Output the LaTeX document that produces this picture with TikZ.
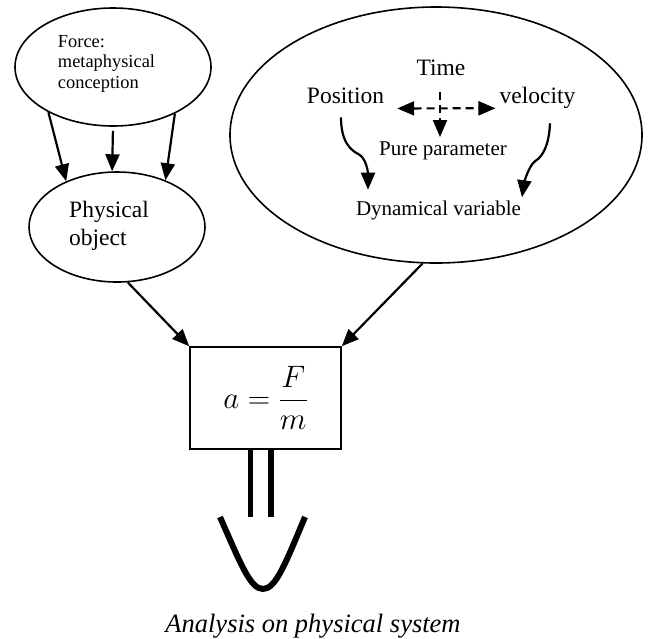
\RequirePackage{fix-cm}
\documentclass[tikz,border=0pt]{standalone}
\usepackage{amsmath}
\usepackage{fontspec}
\setmainfont{Liberation Serif}
\usetikzlibrary{shapes.geometric,arrows.meta}

\begin{document}
\begin{tikzpicture}[
    x=1pt, y=-1pt,
    oval/.style={draw, ellipse, line width=1.6pt, inner sep=0pt},
    formula/.style={draw, rectangle, line width=1.6pt, minimum width=151pt, minimum height=102pt},
    arrow/.style={-{Triangle[length=17pt,width=14pt]}, line width=2.2pt},
    dasharrow/.style={arrow, dash pattern=on 8pt off 5pt},
    word/.style={inner sep=0pt, anchor=base},
    bigword/.style={word, font=\fontsize{23.5}{28}\selectfont},
    smallword/.style={word, font=\fontsize{21}{25}\selectfont}
]
\useasboundingbox (0,0) rectangle (660,638);

% Force and the object it acts on
\node[oval, minimum width=196pt, minimum height=118pt,
      label={[align=left, xshift=-6.5pt, yshift=3.5pt, font=\fontsize{18.4}{20.5}\selectfont]center:Force:\\metaphysical\\conception}] (force) at (113,67) {};
\node[oval, minimum width=176pt, minimum height=110pt,
      label={[align=left, xshift=-8pt, yshift=1.5pt, font=\fontsize{23.5}{28}\selectfont]center:Physical\\object}] (object) at (117,227) {};

\draw[arrow] (force.215) -- (object.138);
\draw[arrow, shorten <=4pt] (force.270) -- (object.95);
\draw[arrow] (force.323) -- (object.44);

% Kinematics
\node[oval, minimum width=412pt, minimum height=256pt] (motion) at (436,135) {};
\node[bigword] (time) at (441,75) {Time};
\node[bigword] (position) at (345.5,103) {Position};
\node[bigword] (velocity) at (537.5,103) {velocity};
\node[smallword] (pure) at (443,155) {Pure parameter};
\node[smallword] (dynamic) at (438.5,215) {Dynamical variable};

\draw[dasharrow, {Triangle[length=17pt,width=14pt]}-{Triangle[length=17pt,width=14pt]}] ([shift={(13,5)}]position.south east) -- ([shift={(-4,0)}]velocity.south west);
\draw[dasharrow] ([shift={(-1,17)}]time.south) -- ([shift={(-3,-4)}]pure.north);

\draw[arrow] ([shift={(-4.5,14)}]position.south) .. controls +(0,25) and +(-8,-4) .. ++(18,37) .. controls +(7,4) and +(0,-18) .. ([shift={(-70.5,-10.5)}]dynamic.north);
\draw[arrow] ([shift={(12.5,15)}]velocity.south) .. controls +(-1,22) and +(8,-5) .. ++(-15,38) .. controls +(-6,4) and +(2,-14) .. ([shift={(83.5,-3)}]dynamic.north);

% Newton's law
\node[formula, font=\fontsize{31}{36}\selectfont] (law) at (265.5,398) {$a=\dfrac{F}{m}$};
\draw[arrow] (object.281) -- (law.north west);
\draw[arrow] (motion.264) -- (law.north east);

% Implication
\draw[line width=5.5pt] ([xshift=-15pt]law.south) -- ++(0,67) ([xshift=5.5pt]law.south) -- ++(0,67);
\draw[line width=6pt] (220,517) .. controls (240,562) and (250,589) .. (263,589) .. controls (276,589) and (286,562) .. (305,517);
\node[word, font=\fontsize{26.5}{30}\selectfont\itshape] (analysis) at (313,632) {Analysis on physical system};

\end{tikzpicture}
\end{document}
